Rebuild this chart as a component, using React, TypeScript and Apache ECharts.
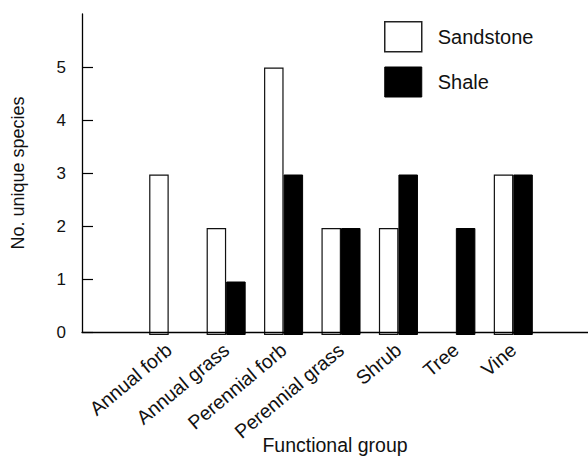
import React, { useEffect, useRef } from "react";
import * as echarts from "echarts";

const categories = [
  "Annual forb",
  "Annual grass",
  "Perennial forb",
  "Perennial grass",
  "Shrub",
  "Tree",
  "Vine",
];
const sandstone = [3, 2, 5, 2, 2, 0, 3];
const shale = [0, 1, 3, 2, 3, 2, 3];
const yTicks = [0, 1, 2, 3, 4, 5];

const FONT = "'Liberation Sans', Arial, Helvetica, sans-serif";

function toItems(values: number[], border: number) {
  return values.map((v) => ({
    value: v,
    itemStyle: { borderWidth: v === 0 ? 0 : border },
  }));
}

export default function App() {
  const ref = useRef<HTMLDivElement>(null);
  useEffect(() => {
    if (!ref.current) return;
    const chart = echarts.init(ref.current, undefined, { renderer: "svg" });
    chart.setOption({
      animation: false,
      backgroundColor: "#ffffff",
      textStyle: { fontFamily: FONT, color: "#000" },
      legend: {
        orient: "vertical",
        left: 384,
        top: 21,
        padding: 0,
        itemWidth: 37,
        itemHeight: 30,
        itemGap: 14,
        icon: "rect",
        textStyle: { fontSize: 20, color: "#111", fontFamily: FONT, padding: [0, 0, 0, 11] },
        data: [
          { name: "Sandstone", itemStyle: { color: "#fff", borderColor: "#222", borderWidth: 1.5 } },
          { name: "Shale", itemStyle: { color: "#000", borderColor: "#000", borderWidth: 1 } },
        ],
      },
      grid: [
        { left: 82, right: 0, top: 14, bottom: 125 },
        { left: 140, right: 46, top: 14, bottom: 125 },
      ],
      xAxis: [
        {
          type: "value",
          gridIndex: 0,
          min: 0,
          max: 1,
          z: 5,
          axisLine: { show: true, lineStyle: { color: "#000", width: 1.3 } },
          axisTick: { show: false },
          axisLabel: { show: false },
          splitLine: { show: false },
          name: "Functional group",
          nameLocation: "middle",
          nameGap: 103,
          nameTextStyle: { fontSize: 19.5, color: "#111", fontFamily: FONT },
        },
        {
          type: "category",
          gridIndex: 1,
          data: categories,
          axisLine: { show: false },
          axisTick: { show: false },
          axisLabel: {
            rotate: 40,
            interval: 0,
            margin: 12,
            fontSize: 19.5,
            color: "#111",
            fontFamily: FONT,
          },
        },
      ],
      yAxis: [
        {
          type: "value",
          gridIndex: 0,
          min: 0,
          max: 6,
          interval: 1,
          axisLine: { show: true, lineStyle: { color: "#000", width: 1.3 } },
          axisTick: {
            show: true,
            inside: true,
            length: 11,
            customValues: yTicks,
            lineStyle: { color: "#000", width: 1.2 },
          },
          axisLabel: {
            customValues: yTicks,
            margin: 16,
            fontSize: 17,
            color: "#111",
            fontFamily: FONT,
          },
          splitLine: { show: false },
          name: "No. unique species",
          nameLocation: "middle",
          nameGap: 55,
          nameTextStyle: { fontSize: 18, color: "#111", fontFamily: FONT },
        },
        {
          type: "value",
          gridIndex: 1,
          min: 0,
          max: 6,
          show: false,
        },
        {
          type: "value",
          gridIndex: 0,
          min: 0,
          max: 6,
          interval: 1,
          axisLine: { show: false },
          axisTick: {
            show: true,
            inside: false,
            length: 6,
            customValues: yTicks,
            lineStyle: { color: "#000", width: 1.2 },
          },
          axisLabel: { show: false },
          splitLine: { show: false },
        },
      ],
      series: [
        {
          name: "Sandstone",
          type: "bar",
          xAxisIndex: 1,
          yAxisIndex: 1,
          data: toItems(sandstone, 1.2),
          barGap: "0%",
          barCategoryGap: "32%",
          itemStyle: { color: "#fff", borderColor: "#111", borderWidth: 1.2 },
        },
        {
          name: "Shale",
          type: "bar",
          xAxisIndex: 1,
          yAxisIndex: 1,
          data: toItems(shale, 1),
          barGap: "0%",
          barCategoryGap: "32%",
          itemStyle: { color: "#000", borderColor: "#000", borderWidth: 1 },
        },
      ],
    });
    return () => chart.dispose();
  }, []);
  return (
    <div
      ref={ref}
      style={{ position: "fixed", left: 0, top: 0, width: 588, height: 460 }}
    />
  );
}
